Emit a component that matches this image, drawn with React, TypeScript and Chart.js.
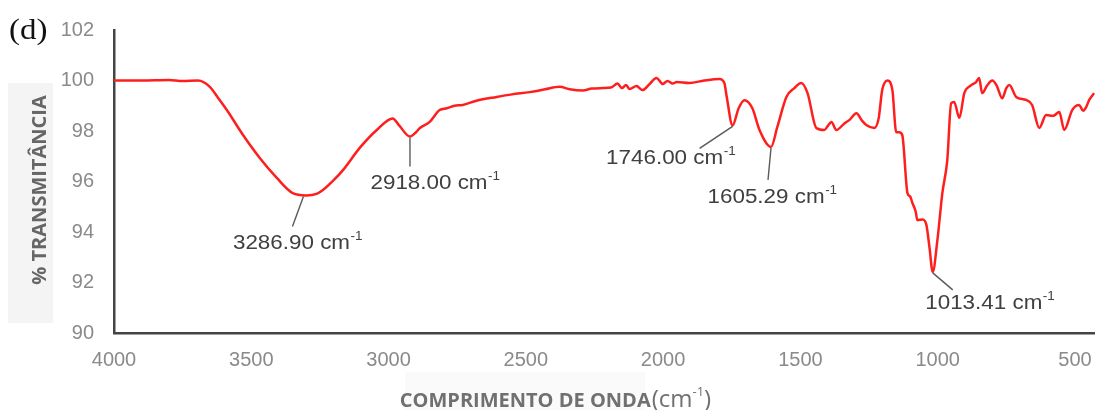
import React, { useEffect, useRef } from "react";
import { Chart, registerables } from "chart.js";

Chart.register(...registerables);

// ---- data ----
const WAVENUMBER = [
  4000, 3900, 3800, 3750, 3694, 3651, 3620, 3589, 3530, 3469, 3407, 3349, 3300, 3260, 3239, 3200,
  3166, 3105, 3043, 2985, 2960, 2922, 2900, 2886, 2850, 2814, 2788, 2760, 2730, 2680, 2606, 2550,
  2486, 2430, 2377, 2340, 2293, 2260, 2220, 2190, 2166, 2150, 2135, 2122, 2097, 2075, 2050, 2024,
  2010, 2002, 1984, 1965, 1951, 1904, 1850, 1795, 1777, 1769, 1747, 1725, 1704, 1675, 1649, 1607,
  1584, 1551, 1522, 1497, 1474, 1442, 1413, 1400, 1387, 1369, 1340, 1320, 1296, 1275, 1260, 1231,
  1215, 1202, 1183, 1165, 1151, 1140, 1129, 1110, 1100, 1092, 1080, 1074, 1055, 1041, 1030, 1018,
  1001, 983, 965, 951, 940, 921, 903, 880, 860, 849, 838, 820, 801, 785, 765, 750,
  739, 714, 678, 656, 630, 605, 580, 557, 539, 510, 485, 470, 459, 448, 430,
];
const TRANSMITTANCE = [
  100.0, 100.0, 100.02, 99.98, 100.0, 99.75, 99.3, 98.83, 97.84, 96.93, 96.14, 95.54, 95.45, 95.52, 95.66, 96.05,
  96.45, 97.33, 98.04, 98.5, 98.2, 97.78, 97.95, 98.12, 98.36, 98.83, 98.9, 99.0, 99.03, 99.2, 99.35, 99.45,
  99.54, 99.65, 99.75, 99.65, 99.6, 99.68, 99.7, 99.72, 99.88, 99.7, 99.82, 99.66, 99.78, 99.62, 99.85, 100.1,
  99.95, 99.86, 99.98, 99.88, 99.94, 99.9, 100.0, 100.06, 99.9, 99.4, 98.22, 98.9, 99.22, 98.9, 98.04, 97.37,
  98.16, 99.35, 99.7, 99.9, 99.5, 98.12, 98.04, 98.2, 98.36, 98.04, 98.3, 98.45, 98.7, 98.4, 98.24, 98.12,
  98.5, 99.62, 100.0, 99.62, 97.95, 97.95, 97.84, 95.54, 95.4, 95.15, 94.8, 94.47, 94.5, 94.28, 93.4, 92.42,
  93.68, 95.54, 96.85, 99.1, 99.15, 98.52, 99.5, 99.8, 99.94, 100.1, 99.5, 99.8, 100.0, 99.8, 99.3, 99.7,
  99.82, 99.35, 99.23, 99.03, 98.12, 98.63, 98.6, 98.75, 98.04, 98.83, 99.03, 98.8, 98.95, 99.23, 99.5,
];
const X_TICKS = [4000, 3500, 3000, 2500, 2000, 1500, 1000, 500];
const Y_TICKS = [90, 92, 94, 96, 98, 100, 102];
const PEAK_LABELS = ["3286.90", "2918.00", "1746.00", "1605.29", "1013.41"];
const PEAK_X = [3310, 2922, 1747, 1607, 1018];
const PEAK_Y = [95.45, 97.78, 98.22, 97.37, 92.42];

// ---- layout / style (pixel offsets of labels relative to their peak) ----
const LABEL_OFFSETS = [
  { lx: -11, ly: 31, tx: -6, ty: 48 },
  { lx: 0, ly: 30, tx: 25, ty: 47 },
  { lx: -33, ly: 23, tx: -62, ty: 33 },
  { lx: -3, ly: 33, tx: 1, ty: 51 },
  { lx: 20, ly: 18, tx: 57, ty: 32 },
];
const SANS = '"Liberation Sans", Arial, sans-serif';
const OPEN = '"Open Sans", sans-serif';

function drawSupText(
  ctx: CanvasRenderingContext2D,
  main: string,
  sup: string,
  cx: number,
  cy: number,
  mainFont: string,
  supFont: string,
  supRaise: number,
  sx: number,
  color: string
) {
  ctx.save();
  ctx.fillStyle = color;
  ctx.textBaseline = "middle";
  ctx.textAlign = "left";
  ctx.font = mainFont;
  const wm = ctx.measureText(main).width;
  ctx.font = supFont;
  const ws = ctx.measureText(sup).width;
  ctx.translate(cx, cy);
  ctx.scale(sx, 1);
  const x0 = -(wm + ws) / 2;
  ctx.font = mainFont;
  ctx.fillText(main, x0, 0);
  ctx.font = supFont;
  ctx.fillText(sup, x0 + wm + 0.5, -supRaise);
  ctx.restore();
}

const decorPlugin = {
  id: "decor",
  beforeDraw(chart: any) {
    const { ctx } = chart;
    ctx.save();
    ctx.fillStyle = "#ffffff";
    ctx.fillRect(0, 0, chart.width, chart.height);
    ctx.fillStyle = "#f4f4f4";
    ctx.fillRect(8, 83, 45, 240);
    ctx.fillStyle = "#fafafa";
    ctx.fillRect(405, 372, 240, 38);
    ctx.restore();
  },
  afterDraw(chart: any) {
    const { ctx } = chart;
    ctx.save();
    // panel letter
    ctx.save();
    ctx.fillStyle = "#111";
    ctx.font = '30px "Liberation Serif", "Times New Roman", serif';
    ctx.textBaseline = "middle";
    ctx.textAlign = "left";
    ctx.translate(9, 31);
    ctx.scale(1.1, 1);
    ctx.fillText("(d)", 0, 0);
    ctx.restore();

    // y title
    ctx.save();
    ctx.translate(40, 190);
    ctx.rotate(-Math.PI / 2);
    ctx.fillStyle = "#666";
    ctx.font = `bold 20px ${OPEN}`;
    ctx.textAlign = "center";
    ctx.textBaseline = "middle";
    ctx.fillText("% TRANSMITÂNCIA", 0, 0);
    ctx.restore();

    // x title
    const part1 = "COMPRIMENTO DE ONDA";
    const f1 = `bold 20px ${OPEN}`;
    const f2 = `24px ${OPEN}`;
    const f3 = `13px ${OPEN}`;
    ctx.font = f1;
    const w1 = ctx.measureText(part1).width;
    ctx.font = f2;
    const w2 = ctx.measureText("(cm").width;
    const w4 = ctx.measureText(")").width;
    ctx.font = f3;
    const w3 = ctx.measureText("-1").width;
    let x0 = 555 - (w1 + w2 + w3 + w4) / 2;
    const base = 407;
    ctx.fillStyle = "#707070";
    ctx.textBaseline = "alphabetic";
    ctx.font = f1;
    ctx.fillText(part1, x0, base);
    x0 += w1 + 1;
    ctx.font = f2;
    ctx.fillText("(cm", x0, base);
    x0 += w2;
    ctx.font = f3;
    ctx.fillText("-1", x0, base - 11);
    x0 += w3;
    ctx.font = f2;
    ctx.fillText(")", x0, base);
    ctx.restore();
  },
  afterDatasetsDraw(chart: any) {
    const { ctx } = chart;
    const xs = chart.scales.x;
    const ys = chart.scales.y;
    PEAK_X.forEach((wx, i) => {
      const px = xs.getPixelForValue(wx);
      const py = ys.getPixelForValue(PEAK_Y[i]);
      const o = LABEL_OFFSETS[i];
      ctx.save();
      ctx.strokeStyle = "#5a5a5a";
      ctx.lineWidth = 1.4;
      ctx.beginPath();
      ctx.moveTo(px, py + 1);
      ctx.lineTo(px + o.lx, py + o.ly);
      ctx.stroke();
      ctx.restore();
      drawSupText(
        ctx,
        PEAK_LABELS[i] + " cm",
        "-1",
        px + o.tx,
        py + o.ty,
        `20px ${SANS}`,
        `12px ${SANS}`,
        7,
        1.12,
        "#404040"
      );
    });
  },
};

export default function App() {
  const ref = useRef<HTMLCanvasElement>(null);
  useEffect(() => {
    if (!ref.current) return;
    const chart = new Chart(ref.current, {
      type: "line",
      data: {
        datasets: [
          {
            data: WAVENUMBER.map((w, i) => ({ x: w, y: TRANSMITTANCE[i] })),
            borderColor: "#ff1e1e",
            borderWidth: 2.5,
            pointRadius: 0,
            fill: false,
            cubicInterpolationMode: "monotone",
          },
        ],
      },
      options: {
        animation: false,
        responsive: true,
        maintainAspectRatio: false,
        layout: { padding: { top: 30, right: 0, left: 0, bottom: 0 } },
        plugins: { legend: { display: false }, tooltip: { enabled: false } },
        scales: {
          x: {
            type: "linear",
            reverse: true,
            min: 427,
            max: 4000,
            grid: { display: false, drawTicks: false },
            border: { display: true, color: "#444", width: 2.5 },
            ticks: {
              color: "#8a8a8a",
              font: { family: SANS, size: 20 },
              padding: 15,
              autoSkip: false,
              maxRotation: 0,
              callback: (v: any) => String(v),
            },
            afterBuildTicks: (s: any) => {
              s.ticks = X_TICKS.map((v) => ({ value: v }));
            },
            afterFit: (s: any) => {
              s.height = 77;
              s.paddingLeft = 0;
              s.paddingRight = 0;
            },
          },
          y: {
            min: 90,
            max: 102,
            grid: { display: false, drawTicks: false },
            border: { display: true, color: "#444", width: 2.5 },
            ticks: {
              color: "#8a8a8a",
              font: { family: SANS, size: 20 },
              padding: 20,
              callback: (v: any) => String(v),
            },
            afterBuildTicks: (s: any) => {
              s.ticks = Y_TICKS.map((v) => ({ value: v }));
            },
            afterFit: (s: any) => {
              s.width = 114;
              s.paddingTop = 0;
              s.paddingBottom = 0;
            },
          },
        },
      },
      plugins: [decorPlugin],
    } as any);
    return () => chart.destroy();
  }, []);
  return (
    <div style={{ position: "fixed", left: 0, top: 0, width: 1095, height: 410, background: "#fff" }}>
      <canvas ref={ref} />
    </div>
  );
}
